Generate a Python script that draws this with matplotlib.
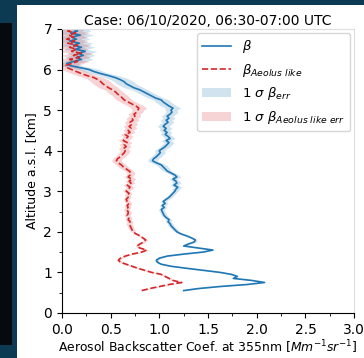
import numpy as np
import matplotlib.pyplot as plt
from matplotlib.patches import Rectangle
from matplotlib.ticker import MultipleLocator

# altitude grid in km (0.05 km steps, 0.55 - 7.00)
altitude = np.round(0.55 + 0.05 * np.arange(130), 2)

# backscatter coefficient (Mm-1 sr-1), one row per 0.5 km
beta = [
    1.25, 1.40, 1.62, 1.90, 2.08, 1.95, 1.76, 1.80, 1.74, 1.62,
    1.45, 1.28, 1.12, 1.02, 0.98, 0.97, 1.00, 1.08, 1.25, 1.45,
    1.55, 1.40, 1.25, 1.30, 1.36, 1.37, 1.33, 1.28, 1.22, 1.18,
    1.16, 1.14, 1.12, 1.11, 1.09, 1.10, 1.07, 1.05, 1.04, 1.03,
    1.02, 1.05, 1.03, 1.06, 1.04, 1.07, 1.10, 1.12, 1.14, 1.16,
    1.17, 1.19, 1.15, 1.18, 1.17, 1.14, 1.18, 1.16, 1.12, 1.08,
    1.06, 1.04, 1.02, 0.97, 0.93, 0.94, 0.97, 0.99, 1.01, 1.00,
    1.03, 1.06, 1.08, 1.10, 1.07, 1.11, 1.09, 1.06, 1.08, 1.05,
    1.07, 1.04, 1.06, 1.09, 1.07, 1.10, 1.08, 1.11, 1.13, 1.12,
    1.14, 1.10, 1.07, 1.04, 1.02, 0.96, 0.92, 0.88, 0.84, 0.80,
    0.74, 0.70, 0.66, 0.64, 0.60, 0.55, 0.48, 0.40, 0.33, 0.28,
    0.18, 0.08, 0.05, 0.12, 0.20, 0.15, 0.22, 0.17, 0.24, 0.14,
    0.20, 0.12, 0.18, 0.08, 0.15, 0.10, 0.19, 0.09, 0.16, 0.12,
]

beta_aeolus = [
    0.82, 0.90, 1.00, 1.10, 1.23, 1.14, 1.10, 1.06, 1.02, 0.92,
    0.85, 0.78, 0.72, 0.66, 0.60, 0.58, 0.60, 0.65, 0.72, 0.82,
    0.87, 0.80, 0.77, 0.80, 0.84, 0.86, 0.83, 0.80, 0.76, 0.73,
    0.72, 0.71, 0.70, 0.69, 0.70, 0.68, 0.69, 0.67, 0.68, 0.68,
    0.66, 0.68, 0.67, 0.69, 0.67, 0.66, 0.68, 0.67, 0.69, 0.66,
    0.68, 0.70, 0.67, 0.71, 0.69, 0.72, 0.68, 0.70, 0.71, 0.69,
    0.66, 0.63, 0.61, 0.58, 0.56, 0.57, 0.60, 0.62, 0.64, 0.65,
    0.63, 0.66, 0.64, 0.67, 0.63, 0.66, 0.68, 0.65, 0.70, 0.68,
    0.71, 0.69, 0.72, 0.70, 0.73, 0.72, 0.75, 0.74, 0.77, 0.78,
    0.79, 0.76, 0.72, 0.68, 0.64, 0.62, 0.60, 0.57, 0.55, 0.52,
    0.48, 0.45, 0.42, 0.40, 0.37, 0.33, 0.26, 0.20, 0.15, 0.10,
    0.05, 0.04, 0.10, 0.16, 0.08, 0.18, 0.12, 0.20, 0.10, 0.15,
    0.08, 0.16, 0.06, 0.13, 0.05, 0.12, 0.07, 0.14, 0.06, 0.10,
]

# 1 sigma error, one value per 0.5 km block
beta_err_block = [0.02, 0.02, 0.02, 0.03, 0.03, 0.04, 0.05, 0.05,
                  0.06, 0.08, 0.10, 0.12, 0.14]
aeolus_err_block = [0.02, 0.02, 0.02, 0.03, 0.03, 0.04, 0.05, 0.05,
                    0.06, 0.08, 0.10, 0.12, 0.14]

title = 'Case: 06/10/2020, 06:30-07:00 UTC'

BLUE = '#1f77b4'
RED = '#d62728'


def main():
    b = np.array(beta)
    a = np.array(beta_aeolus)
    b_err = np.repeat(beta_err_block, 10)
    a_err = np.repeat(aeolus_err_block, 10)

    fig = plt.figure(figsize=(3.64, 3.58), dpi=100)
    fig.patch.set_facecolor('#0b3a52')

    # white slide panel behind the chart, dark strip on the left
    fig.patches.append(Rectangle((17 / 364, 0), 1, 353 / 358,
                                 transform=fig.transFigure,
                                 facecolor='white', zorder=-2))
    fig.patches.append(Rectangle((0, 13 / 358), 12 / 364, 322 / 358,
                                 transform=fig.transFigure,
                                 facecolor='#050a0e', zorder=-2))

    ax = fig.add_axes([0.170, 0.126, 0.803, 0.793])

    ax.plot(b, altitude, '-', color=BLUE, lw=1.2, label=r'$\beta$')
    ax.plot(a, altitude, '--', color=RED, lw=1.2,
            label=r'$\beta_{Aeolus\ like}$')
    ax.fill_betweenx(altitude, b - b_err, b + b_err, color=BLUE,
                     alpha=0.2, lw=0, label=r'$1\ \sigma\ \beta_{err}$')
    ax.fill_betweenx(altitude, a - a_err, a + a_err, color=RED,
                     alpha=0.2, lw=0,
                     label=r'$1\ \sigma\ \beta_{Aeolus\ like\ err}$')

    ax.set_xlim(0, 3)
    ax.set_ylim(0, 7)
    ax.xaxis.set_minor_locator(MultipleLocator(0.25))
    ax.yaxis.set_minor_locator(MultipleLocator(0.5))
    ax.tick_params(labelsize=10)

    for side in ['top', 'right']:
        ax.spines[side].set_color('#dddddd')

    ax.set_title(title, fontsize=10, pad=3)
    ax.set_xlabel(r'Aerosol Backscatter Coef. at 355nm [$Mm^{-1}sr^{-1}$]',
                  fontsize=8.9, labelpad=1.5)
    ax.set_ylabel('Altitude a.s.l. [Km]', fontsize=9)

    ax.legend(loc='upper right', fontsize=9.5, borderaxespad=0.3,
              handlelength=2.2)

    fig.savefig('out.png', dpi=100, facecolor=fig.get_facecolor())


if __name__ == "__main__":
    main()
